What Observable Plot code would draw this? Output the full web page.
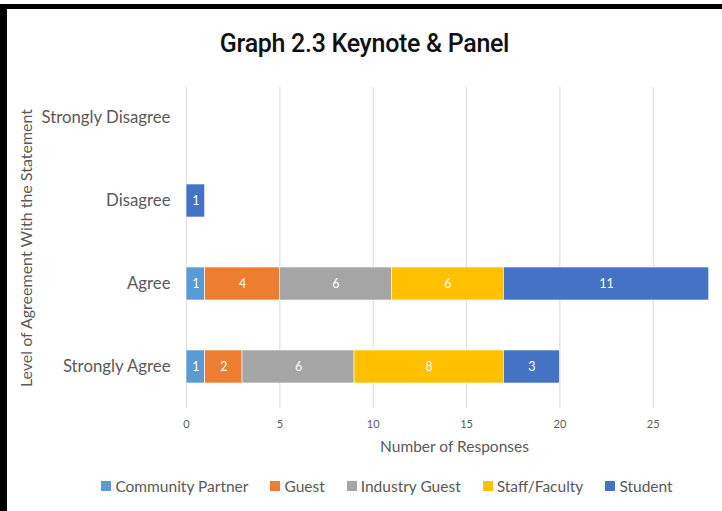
<!DOCTYPE html>
<html>
<head>
<meta charset="utf-8">
<script src="https://cdn.jsdelivr.net/npm/d3@7"></script>
<script src="https://cdn.jsdelivr.net/npm/@observablehq/plot@0.6"></script>
<style>
  html, body { margin: 0; padding: 0; background: #fff; }
  #page { position: relative; width: 722px; height: 511px; overflow: hidden; background: #fff; }
  #frame { position: absolute; left: 0; top: 4px; width: 722px; height: 507px; box-sizing: border-box; border-top: 5px solid #000; border-left: 7px solid #000; }
  #title { position: absolute; left: 7px; right: 0; top: 29px; text-align: center; font-family: "Roboto", sans-serif; font-weight: 500; font-size: 25px; color: #111; letter-spacing: -0.3px; }
  #chart { position: absolute; left: 0; top: 0; }
  #legend { position: absolute; left: 0; width: 722px; top: 477px; display: flex; justify-content: center; gap: 22px; font-family: "Lato", sans-serif; font-size: 15.5px; color: #595959; padding-left: 52px; box-sizing: border-box; }
  #legend .item { display: flex; align-items: center; gap: 4px; }
  #legend .sw { width: 10px; height: 10px; display: inline-block; }
</style>
</head>
<body>
<div id="page">
  <div id="frame"></div>
  <div id="title">Graph 2.3 Keynote &amp; Panel</div>
  <div id="chart"></div>
  <div id="legend"></div>
</div>
<script>
const levels = ["Strongly Disagree", "Disagree", "Agree", "Strongly Agree"];
const groups = ["Community Partner", "Guest", "Industry Guest", "Staff/Faculty", "Student"];
const colors = ["#5B9BD5", "#ED7D31", "#A5A5A5", "#FFC000", "#4472C4"];
const communityPartner = [0, 0, 1, 1];
const guest = [0, 0, 4, 2];
const industryGuest = [0, 0, 6, 6];
const staffFaculty = [0, 0, 6, 8];
const student = [0, 1, 11, 3];
const xTicks = [0, 5, 10, 15, 20, 25];

const series = [communityPartner, guest, industryGuest, staffFaculty, student];
const rows = [];
levels.forEach((lv, i) => {
  groups.forEach((g, j) => {
    rows.push({level: lv, group: g, value: series[j][i]});
  });
});
const nonzero = rows.filter(d => d.value > 0);

const chart = Plot.plot({
  width: 722,
  height: 470,
  marginLeft: 186,
  marginRight: 0,
  marginTop: 87,
  marginBottom: 62,
  style: {fontFamily: "Lato, sans-serif", color: "#595959", background: "transparent"},
  x: {domain: [0, 28.71], ticks: xTicks, label: null},
  y: {domain: levels, range: [75, 408], paddingInner: 0.604, paddingOuter: 0.3, label: null},
  color: {domain: groups, range: colors},
  marks: [
    Plot.gridX(xTicks, {stroke: "#d9d9d9", strokeOpacity: 1, strokeWidth: 1}),
    Plot.barX(nonzero, Plot.stackX({x: "value", y: "level", fill: "group", z: "group", order: groups, stroke: "white", strokeWidth: 0.6})),
    Plot.text(nonzero, Plot.stackX({x: "value", y: "level", z: "group", order: groups, text: d => String(d.value), fill: "white", fontSize: 12.5, fontFamily: "Lato, sans-serif"})),
    Plot.axisX(xTicks, {tickSize: 0, tickPadding: 12, fontSize: 11, fill: "#595959", label: "Number of Responses", labelAnchor: "center", labelArrow: "none", labelOffset: 43}),
    Plot.axisY({tickSize: 0, tickPadding: 16, fontSize: 16.8, fill: "#595959", label: "Level of Agreement With the Statement", labelAnchor: "center", labelArrow: "none", labelOffset: 166})
  ]
});
document.getElementById("chart").appendChild(chart);

chart.querySelectorAll("[aria-label='x-axis label']").forEach(t => {
  t.setAttribute("font-size", "15.5");
  t.style.fontSize = "15.5px";
});
chart.querySelectorAll("[aria-label='y-axis label']").forEach(t => {
  t.setAttribute("font-size", "16");
  t.style.fontSize = "16px";
});

const legend = document.getElementById("legend");
groups.forEach((g, j) => {
  const item = document.createElement("span");
  item.className = "item";
  const sw = document.createElement("span");
  sw.className = "sw";
  sw.style.background = colors[j];
  const label = document.createElement("span");
  label.textContent = g;
  item.appendChild(sw);
  item.appendChild(label);
  legend.appendChild(item);
});
</script>
</body>
</html>
